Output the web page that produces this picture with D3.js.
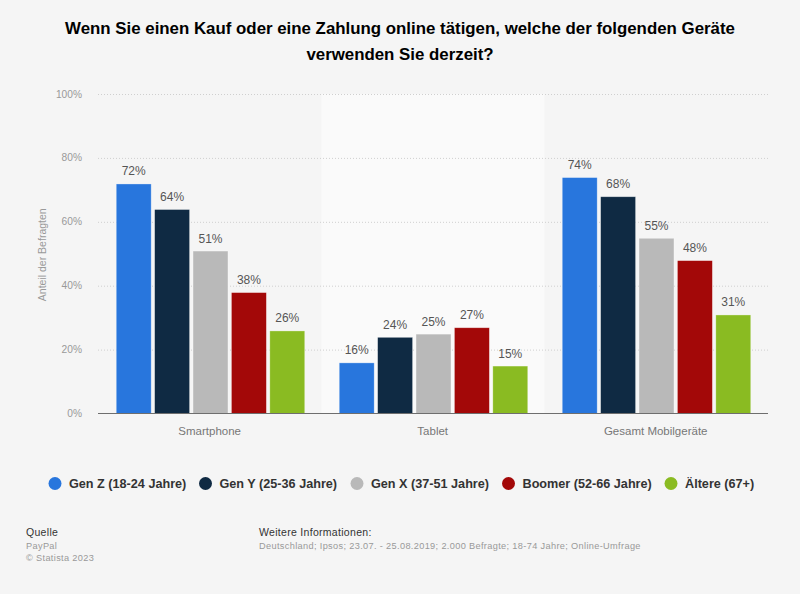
<!DOCTYPE html>
<html lang="de">
<head>
<meta charset="utf-8">
<script src="https://cdn.jsdelivr.net/npm/d3@7/dist/d3.min.js"></script>
<style>
  html, body { margin: 0; padding: 0; background: #f5f5f5; }
  svg { display: block; font-family: "Liberation Sans", Arial, sans-serif; }
  .grid line { stroke: #cfcfcf; stroke-dasharray: 1 2; }
  .grid .domain { display: none; }
</style>
</head>
<body>
<div id="chart"></div>
<script>
const categories = ['Smartphone', 'Tablet', 'Gesamt Mobilgeräte']
const seriesNames = ['Gen Z (18-24 Jahre)', 'Gen Y (25-36 Jahre)', 'Gen X (37-51 Jahre)', 'Boomer (52-66 Jahre)', 'Ältere (67+)']
const genZ = [72, 16, 74]
const genY = [64, 24, 68]
const genX = [51, 25, 55]
const boomer = [38, 27, 48]
const aeltere = [26, 15, 31]
const colors = ['#2876dd', '#0f2a43', '#b9b9b9', '#a30808', '#8abb22']
const yTicks = [0, 20, 40, 60, 80, 100]
const titleLines = ['Wenn Sie einen Kauf oder eine Zahlung online tätigen, welche der folgenden Geräte', 'verwenden Sie derzeit?']
const legendX = [55, 205.5, 357, 508.5, 671]

const allSeries = [genZ, genY, genX, boomer, aeltere]
const width = 800, height = 594
const margin = { top: 94, right: 32, bottom: 180.5, left: 98 }

const svg = d3.select('#chart').append('svg')
  .attr('width', width).attr('height', height)

const x = d3.scaleBand().domain(categories).range([margin.left + 1, width - margin.right])
const x1 = d3.scaleBand().domain(d3.range(seriesNames.length))
  .range([0, x.bandwidth()]).paddingInner(0.09).paddingOuter(0.449)
const y = d3.scaleLinear().domain([0, 100]).range([height - margin.bottom, margin.top])

// Title
svg.append('g').selectAll('text').data(titleLines).join('text')
  .attr('x', 400).attr('y', (d, i) => 34 + i * 26)
  .attr('text-anchor', 'middle').attr('fill', '#000')
  .style('font-size', '16.85px').style('font-weight', '700')
  .text(d => d)

// Light band behind the middle category
svg.append('rect')
  .attr('x', x('Tablet') - 0.7).attr('y', margin.top)
  .attr('width', x.bandwidth()).attr('height', y(0) - margin.top)
  .attr('fill', '#fafafa')

// Grid lines
svg.append('g').attr('class', 'grid')
  .attr('transform', `translate(${margin.left},0)`)
  .call(d3.axisLeft(y).tickValues(yTicks.filter(t => t > 0)).tickSize(-(width - margin.left - margin.right)).tickFormat(''))

// Y tick labels
svg.append('g').selectAll('text').data(yTicks).join('text')
  .attr('x', 82).attr('y', d => y(d)).attr('dy', '0.35em')
  .attr('text-anchor', 'end').attr('fill', '#999')
  .style('font-size', '10.2px').text(d => d + '%')

svg.append('text')
  .attr('transform', `translate(46,${(y(0) + y(100)) / 2 + 1}) rotate(-90)`)
  .attr('text-anchor', 'middle').attr('fill', '#999')
  .style('font-size', '10.5px').text('Anteil der Befragten')

// Bars and value labels
allSeries.forEach((values, si) => {
  const g = svg.append('g')
  g.selectAll('rect').data(values).join('rect')
    .attr('x', (d, i) => x(categories[i]) + x1(si))
    .attr('y', d => y(d) + 0.5)
    .attr('width', x1.bandwidth())
    .attr('height', d => y(0) - y(d) - 0.5)
    .attr('fill', colors[si])
    .attr('stroke', '#fff').attr('stroke-opacity', 0.45).attr('stroke-width', 0.7)
  g.selectAll('text').data(values).join('text')
    .attr('x', (d, i) => x(categories[i]) + x1(si) + x1.bandwidth() / 2)
    .attr('y', d => y(d) - 8)
    .attr('text-anchor', 'middle').attr('fill', '#555')
    .style('font-size', '12px').text(d => d + '%')
})

// X axis line and labels
svg.append('line')
  .attr('x1', margin.left).attr('x2', width - margin.right)
  .attr('y1', y(0)).attr('y2', y(0))
  .attr('stroke', '#6e6e6e').attr('stroke-width', 1.2)

svg.append('g').selectAll('text').data(categories).join('text')
  .attr('x', d => x(d) + x.bandwidth() / 2 - 0.8).attr('y', 435)
  .attr('text-anchor', 'middle').attr('fill', '#777')
  .style('font-size', '11.5px').text(d => d)

// Legend
const legend = svg.append('g').selectAll('g').data(seriesNames).join('g')
  .attr('transform', (d, i) => `translate(${legendX[i]},483.5)`)
legend.append('circle').attr('r', 6.5).attr('fill', (d, i) => colors[i])
legend.append('text')
  .attr('x', 14).attr('dy', '0.35em').attr('fill', '#333')
  .style('font-size', '12.65px').style('font-weight', '700').text(d => d)

// Footer
const footer = [
  { x: 26, y: 536, text: 'Quelle', fill: '#333', size: 10.5, spacing: 0.3 },
  { x: 26, y: 549, text: 'PayPal', fill: '#999', size: 9.2, spacing: 0.35 },
  { x: 26, y: 561, text: '© Statista 2023', fill: '#999', size: 9.2, spacing: 0.35 },
  { x: 259, y: 536, text: 'Weitere Informationen:', fill: '#333', size: 10.5, spacing: 0.3 },
  { x: 259, y: 549, text: 'Deutschland; Ipsos; 23.07. - 25.08.2019; 2.000 Befragte; 18-74 Jahre; Online-Umfrage', fill: '#999', size: 9.2, spacing: 0.35 }
]
svg.append('g').selectAll('text').data(footer).join('text')
  .attr('x', d => d.x).attr('y', d => d.y).attr('fill', d => d.fill)
  .style('font-size', d => d.size + 'px').style('letter-spacing', d => d.spacing + 'px').text(d => d.text)
</script>
</body>
</html>
